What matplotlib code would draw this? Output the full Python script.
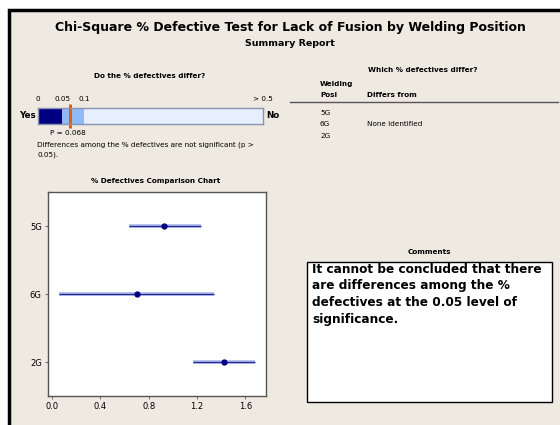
import numpy as np
import matplotlib
matplotlib.use("Agg")
import matplotlib.pyplot as plt
from matplotlib.patches import Rectangle

# 数据
positions = ["5G", "6G", "2G"]
pct_defective = [0.93, 0.70, 1.42]
ci_lower = [0.64, 0.06, 1.17]
ci_upper = [1.23, 1.34, 1.68]
p_value = 0.068
scale_breaks = [0, 0.05, 0.1, 0.5]
scale_labels = ["0", "0.05", "0.1", "> 0.5"]
x_ticks = [0.0, 0.4, 0.8, 1.2, 1.6]
comment = ("It cannot be concluded that there\nare differences among the %\n"
           "defectives at the 0.05 level of\nsignificance.")

W, H = 560, 425
BG = "#EEEAE1"
SMALL = 5.2
fig = plt.figure(figsize=(W / 100, H / 100), dpi=100)
fig.patch.set_facecolor("white")


def fx(px):
    return px / W


def fy(py):
    return 1 - py / H


def text(px, py, s, **kw):
    kw.setdefault("fontsize", SMALL)
    kw.setdefault("va", "center")
    return fig.text(fx(px), fy(py), s, **kw)


def axes_px(left, top, right, bottom):
    return fig.add_axes([fx(left), fy(bottom), fx(right - left), (bottom - top) / H])


# 背景框
fig.patches.append(Rectangle((fx(9), -0.1), 1.2, fy(10) + 0.1, transform=fig.transFigure,
                             facecolor=BG, edgecolor="black", linewidth=2.5, zorder=-10))

# 标题
text(290, 28, "Chi-Square % Defective Test for Lack of Fusion by Welding Position",
     fontsize=9, weight="bold", ha="center")
text(290, 43, "Summary Report", fontsize=6.8, weight="bold", ha="center")

# p值条
text(150, 76, "Do the % defectives differ?", fontsize=SMALL, weight="bold", ha="center")
bx = axes_px(38, 108, 263, 124)
bx.set_xlim(0, 0.5)
b = np.array(scale_breaks)
pos = np.array([0, 0.107, 0.205, 1.0])
bx.set_xscale("function", functions=(lambda v: np.interp(v, b, pos),
                                     lambda v: np.interp(v, pos, b)))
bx.set_ylim(0, 1)
colors = ["#000080", "#8DBBF7", "#E5EFFD"]
for i in range(3):
    bx.barh(0.5, scale_breaks[i + 1] - scale_breaks[i], left=scale_breaks[i],
            height=1, color=colors[i], edgecolor="none")
bx.plot([p_value, p_value], [-0.25, 1.25], color="#E06010", linewidth=2.2,
        clip_on=False, solid_capstyle="butt")
bx.set_xticks(scale_breaks)
bx.set_xticklabels(scale_labels)
bx.xaxis.set_ticks_position("top")
bx.tick_params(axis="x", length=0, labelsize=SMALL, pad=4)
bx.set_yticks([])
for s in bx.spines.values():
    s.set_color("#8A93B0")
    s.set_linewidth(1)
text(27, 116, "Yes", fontsize=6.3, weight="bold", ha="center")
text(273, 116, "No", fontsize=6.3, weight="bold", ha="center")
text(50, 133, f"P = {p_value:.3f}", fontsize=SMALL)
text(37, 145, "Differences among the % defectives are not significant (p >")
text(37, 155, "0.05).")

# 哪些不同
text(423, 70, "Which % defectives differ?", weight="bold", ha="center")
text(320, 84, "Welding", weight="bold")
text(320, 95, "Posi", weight="bold")
text(367, 95, "Differs from", weight="bold")
fig.add_artist(plt.Line2D([fx(290), fx(558)], [fy(102), fy(102)], color="#555555", linewidth=1))
for i, p in enumerate(positions):
    text(320, 113 + i * 11.5, p)
text(367, 124.5, "None Identified")

# 比较图
text(156, 181, "% Defectives Comparison Chart", weight="bold", ha="center")
ax = axes_px(48, 192, 266, 396)
ax.set_facecolor("white")
yy = np.arange(len(positions))[::-1] + 1
ax.hlines(yy, ci_lower, ci_upper, color="#AEB6E8", linewidth=2.6)
ax.hlines(yy, ci_lower, ci_upper, color="#1F2A9A", linewidth=0.9)
ax.plot(pct_defective, yy, "o", color="#000080", markersize=3.5)
ax.set_xlim(-0.033, 1.77)
ax.set_ylim(0.5, 3.5)
ax.set_yticks(yy)
ax.set_yticklabels(positions)
ax.set_xticks(x_ticks)
ax.set_xticklabels([f"{v:.1f}" for v in x_ticks])
ax.tick_params(labelsize=6, length=2.5, width=0.6, color="#555555", pad=2)
for s in ax.spines.values():
    s.set_color("#555555")
    s.set_linewidth(1)

# 评论
text(429, 252, "Comments", weight="bold", ha="center")
fig.patches.append(Rectangle((fx(307), fy(402)), fx(552 - 307), (402 - 262) / H,
                             transform=fig.transFigure, facecolor="white",
                             edgecolor="black", linewidth=1))
text(312, 263, comment, fontsize=8.7, weight="bold", va="top", linespacing=1.35)

fig.savefig("out.png", dpi=100)
plt.close(fig)
